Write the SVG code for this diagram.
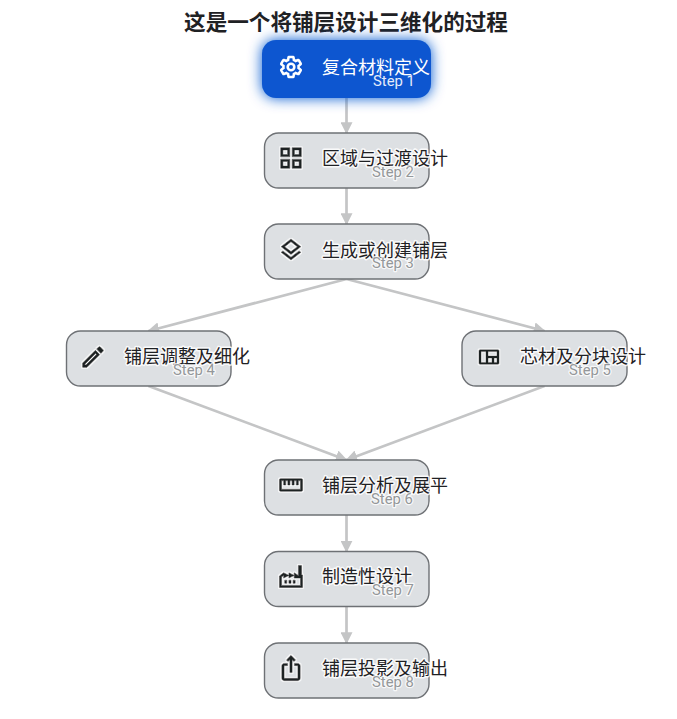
<svg xmlns="http://www.w3.org/2000/svg" width="677" height="719" viewBox="0 0 677 719">
<style>
text{font-family:"Noto Sans CJK SC","Noto Sans",sans-serif;paint-order:stroke;stroke-linejoin:round}
.t{font-size:21.600px;font-weight:700;fill:#1f2124;text-anchor:middle}
.box{fill:#dde0e3;stroke:#6e7175;stroke-width:1.400}
.lab{font-size:18px;fill:#1f2124;stroke:#fff;stroke-width:3;stroke-opacity:.85}
.st{font-family:Roboto,"Noto Sans",sans-serif;font-size:14.800px;fill:#94979a;stroke:#fff;stroke-width:2.500;stroke-opacity:.8}
.c{fill:none;stroke:#c4c5c6;stroke-width:2.700;marker-end:url(#a)}
.i{fill:#1f2124;stroke:#1f2124;stroke-width:.6;filter:url(#h)}
.b{stroke-width:.7}
#n1 .lab{fill:#fff;stroke:none}
#n1 .st{fill:#e4ecfa;stroke:none}
</style>
<defs>
<marker id="a" viewBox="0 0 10 10" refX="9" refY="5" markerUnits="userSpaceOnUse" markerWidth="12" markerHeight="12" orient="auto"><path d="M0 0L10 5L0 10z" fill="#c4c5c6"/></marker>
<filter id="g" x="-30%" y="-60%" width="160%" height="220%"><feGaussianBlur in="SourceAlpha" stdDeviation="7" result="b"/><feFlood flood-color="#0b57d0" flood-opacity="1"/><feComposite in2="b" operator="in"/><feMerge><feMergeNode/><feMergeNode in="SourceGraphic"/></feMerge></filter>
<filter id="h" x="-20%" y="-20%" width="140%" height="140%"><feMorphology in="SourceAlpha" operator="dilate" radius=".8"/><feColorMatrix values="0 0 0 0 1 0 0 0 0 1 0 0 0 0 1 0 0 0 .8 0"/><feMerge><feMergeNode/><feMergeNode in="SourceGraphic"/></feMerge></filter>
</defs>
<text class="t" x="346" y="29.500">这是一个将铺层设计三维化的过程</text>
<g id="connectors">
<path class="c" d="M346.500 98V133"/>
<path class="c" d="M346.500 188V224"/>
<path class="c" d="M346.500 279L148.500 331"/>
<path class="c" d="M346.500 279L544.500 331"/>
<path class="c" d="M148.500 386L346.500 460"/>
<path class="c" d="M544.500 386L346.500 460"/>
<path class="c" d="M346.500 515V551.500"/>
<path class="c" d="M346.500 606.500V643"/>
</g>
<g id="n1"><rect x="262" y="40" width="169" height="58" rx="14" fill="#0b57d0" filter="url(#g)"/>
<path transform="translate(291 67) scale(1.050) translate(-12 -12)" d="M19.140 12.940c.04-.3.06-.61.06-.94 0-.32-.02-.64-.07-.94l2.030-1.580c.18-.14.23-.41.12-.61l-1.920-3.320c-.12-.22-.37-.29-.59-.22l-2.390.96c-.5-.38-1.030-.7-1.620-.94l-.36-2.540c-.04-.24-.24-.41-.48-.41h-3.840c-.24 0-.43.17-.47.41l-.36 2.540c-.59.24-1.130.57-1.620.94l-2.390-.96c-.22-.08-.47 0-.59.22L2.740 8.870c-.12.21-.08.47.12.61l2.030 1.580c-.05.3-.09.63-.09.94s.02.64.07.94l-2.030 1.580c-.18.14-.23.41-.12.61l1.920 3.320c.12.22.37.29.59.22l2.390-.96c.5.38 1.030.7 1.620.94l.36 2.540c.05.24.24.41.48.41h3.840c.24 0 .44-.17.47-.41l.36-2.540c.59-.24 1.130-.56 1.620-.94l2.390.96c.22.08.47 0 .59-.22l1.920-3.320c.12-.22.07-.47-.12-.61l-2.010-1.580z" fill="none" stroke="#fff" stroke-width="2.400"/>
<circle cx="291" cy="67" r="3.300" fill="none" stroke="#fff" stroke-width="2.600"/>
<text class="lab" x="322" y="74">复合材料定义</text><text class="st" x="373" y="86">Step 1</text></g>
<g id="n2"><rect class="box" x="264.500" y="133" width="164.500" height="55" rx="14"/>
<path class="i" transform="translate(291 158) scale(1.150) translate(-12 -12)" d="M3 3h8v8H3zm2 2v4h4V5zM13 3h8v8h-8zm2 2v4h4V5zM3 13h8v8H3zm2 2v4h4v-4zM13 13h8v8h-8zm2 2v4h4v-4z" fill-rule="evenodd"/>
<text class="lab" x="322" y="165">区域与过渡设计</text><text class="st" x="372" y="177">Step 2</text></g>
<g id="n3"><rect class="box" x="264.500" y="224" width="164.500" height="55" rx="14"/>
<path class="i" transform="translate(291 250) scale(1.100) translate(-12 -12)" d="M11.990 18.540l-7.370-5.730L3 14.070l9 7 9-7-1.630-1.270zM12 16l7.360-5.730L21 9l-9-7-9 7 1.630 1.270zM12 4.530L17.740 9 12 13.470 6.260 9z"/>
<text class="lab" x="322" y="256.500">生成或创建铺层</text><text class="st" x="372" y="268">Step 3</text></g>
<g id="n4"><rect class="box" x="66.500" y="331" width="164.500" height="55" rx="14"/>
<path class="i b" transform="translate(93 357) scale(1.150) translate(-12 -12)" d="M3 17.250V21h3.750L17.810 9.940l-3.750-3.750zM5.920 19H5v-.92l9.060-9.060.92.92zM20.710 7.040c.39-.39.39-1.020 0-1.410l-2.340-2.340c-.39-.39-1.020-.39-1.410 0l-1.830 1.830 3.750 3.750z"/>
<text class="lab" x="124" y="363">铺层调整及细化</text><text class="st" x="173" y="375">Step 4</text></g>
<g id="n5"><rect class="box" x="462" y="331" width="165" height="55" rx="14"/>
<path class="i b" transform="translate(489 357) scale(1 .9) translate(-12 -12)" d="M3 4h18a1 1 0 0 1 1 1v14a1 1 0 0 1-1 1H3a1 1 0 0 1-1-1V5a1 1 0 0 1 1-1zm1 2v12h5V6zm7 0v5h9V6zm0 7v5h4v-5zm6 0v5h3v-5z" fill-rule="evenodd"/>
<text class="lab" x="520" y="363">芯材及分块设计</text><text class="st" x="569" y="375">Step 5</text></g>
<g id="n6"><rect class="box" x="264.500" y="460" width="164.500" height="55" rx="14"/>
<path class="i b" transform="translate(291 485) scale(1.050) translate(-12 -12)" d="M2 6h20a1 1 0 0 1 1 1v10a1 1 0 0 1-1 1H2a1 1 0 0 1-1-1V7a1 1 0 0 1 1-1zm1 2v8h18V8h-2v4h-2V8h-2v4h-2V8h-2v4H9V8H7v4H5V8z" fill-rule="evenodd"/>
<text class="lab" x="322" y="492">铺层分析及展平</text><text class="st" x="371" y="504">Step 6</text></g>
<g id="n7"><rect class="box" x="264.500" y="551.500" width="164.500" height="55" rx="14"/>
<path class="i b" transform="translate(291 577) scale(1.050) translate(-12 -12)" d="M22 1h-3v9.500L15 8v2.500L10 8v2.500L5 8 1 11v11h22V10h-1zM3 12l2-1.500V13l5-2.500V13l5-2.500V13h6v7H3zM6 15h2v3H6zM10 15h2v3h-2zM14 15h2v3h-2z" fill-rule="evenodd"/>
<text class="lab" x="322" y="583">制造性设计</text><text class="st" x="372" y="595">Step 7</text></g>
<g id="n8"><rect class="box" x="264.500" y="643" width="164.500" height="55" rx="14"/>
<path class="i" transform="translate(291 668) scale(1.150) translate(-12 -12)" d="M16 5l-1.420 1.420-1.590-1.590V16h-1.980V4.830L9.420 6.420 8 5l4-4zm4 5v11c0 1.100-.9 2-2 2H6c-1.110 0-2-.9-2-2V10c0-1.110.89-2 2-2h3v2H6v11h12V10h-3V8h3c1.100 0 2 .89 2 2z"/>
<text class="lab" x="322" y="675">铺层投影及输出</text><text class="st" x="372" y="687">Step 8</text></g>
</svg>
